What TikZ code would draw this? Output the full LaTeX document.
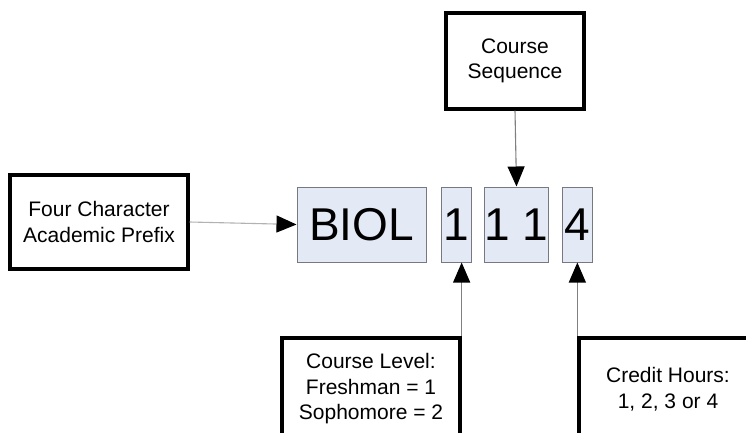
\documentclass[tikz,border=0pt]{standalone}
\usepackage{fontspec}
\setmainfont{Liberation Sans}
\usetikzlibrary{arrows.meta}
\definecolor{cellfill}{RGB}{228,234,245}
\definecolor{cellline}{RGB}{120,120,130}
\tikzset{
  labelbox/.style={draw=black, line width=3.3pt, fill=white, align=center, inner sep=0pt,
    font=\fontsize{21}{25.5}\selectfont},
  cell/.style={draw=cellline, line width=1pt, fill=cellfill, inner sep=0pt,
    minimum height=75pt, font=\fontsize{46}{46}\selectfont},
  conn/.style={draw=gray, line width=1.1pt, -{Triangle[length=20pt,width=17pt,fill=black,color=black]}},
  connlight/.style={draw=gray!60, line width=1.1pt, -{Triangle[length=20pt,width=17pt,fill=black,color=black]}}
}
\begin{document}
\begin{tikzpicture}[x=1pt,y=-1pt]
\useasboundingbox (0,0) rectangle (746,433);
\clip (0,0) rectangle (746,433);
\node[labelbox, minimum width=178pt, minimum height=94pt] (prefix) at (99,222) {Four Character\\Academic Prefix};
\node[labelbox, minimum width=138pt, minimum height=96pt] (seq) at (515,61) {Course\\Sequence};
\node[labelbox, minimum width=178pt, minimum height=102pt] (level) at (371,389) {Course Level:\\Freshman = 1\\Sophomore = 2};
\node[labelbox, minimum width=178pt, minimum height=102pt] (credit) at (668,389) {Credit Hours:\\1, 2, 3 or 4};
\node[cell, minimum width=129pt] (biol) at (361.5,224.5) {BIOL};
\node[cell, minimum width=30pt] (d1) at (456,224.5) {1};
\node[cell, minimum width=61pt] (d11) at (516.5,224.5) {1 1};
\node[cell, minimum width=30pt] (d4) at (577,224.5) {4};
\draw[connlight] (prefix.east) -- (biol.west);
\draw[conn] (seq.south) -- (d11.north);
\draw[conn] (level.north east) -- (level.north east |- d1.south);
\draw[conn] (credit.north west) -- (credit.north west |- d4.south);
\end{tikzpicture}
\end{document}
